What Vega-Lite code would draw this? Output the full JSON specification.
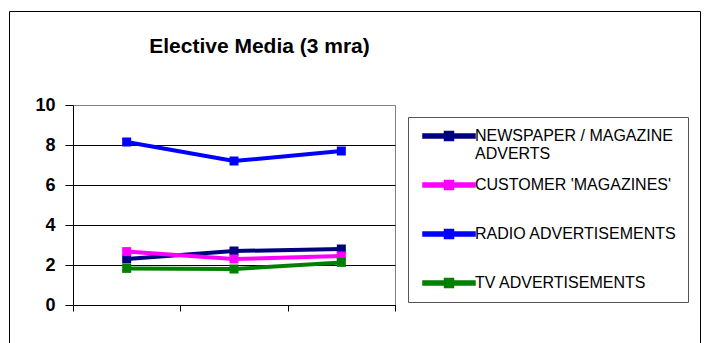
{
  "$schema": "https://vega.github.io/schema/vega-lite/v6.json",
  "width": 691,
  "height": 388,
  "autosize": {"type": "none"},
  "padding": {"left": 9, "top": 11, "right": 7, "bottom": 0},
  "background": "white",
  "config": {
    "view": {"stroke": "black", "strokeWidth": 1},
    "font": "Liberation Sans"
  },
  "title": {
    "text": "Elective Media (3 mra)",
    "font": "Liberation Sans",
    "fontSize": 21,
    "fontWeight": "bold",
    "color": "black",
    "anchor": "middle",
    "frame": "group",
    "dx": -95,
    "offset": 0,
    "baseline": "alphabetic",
    "dy": 63
  },
  "data": {
    "values": [
      {"series": "NEWSPAPER / MAGAZINE ADVERTS", "period": 1, "score": 2.3},
      {"series": "NEWSPAPER / MAGAZINE ADVERTS", "period": 2, "score": 2.7},
      {"series": "NEWSPAPER / MAGAZINE ADVERTS", "period": 3, "score": 2.8},
      {"series": "CUSTOMER 'MAGAZINES'", "period": 1, "score": 2.67},
      {"series": "CUSTOMER 'MAGAZINES'", "period": 2, "score": 2.3},
      {"series": "CUSTOMER 'MAGAZINES'", "period": 3, "score": 2.45},
      {"series": "RADIO ADVERTISEMENTS", "period": 1, "score": 8.15},
      {"series": "RADIO ADVERTISEMENTS", "period": 2, "score": 7.2},
      {"series": "RADIO ADVERTISEMENTS", "period": 3, "score": 7.7},
      {"series": "TV ADVERTISEMENTS", "period": 1, "score": 1.83},
      {"series": "TV ADVERTISEMENTS", "period": 2, "score": 1.8},
      {"series": "TV ADVERTISEMENTS", "period": 3, "score": 2.13}
    ]
  },
  "mark": {
    "type": "line",
    "strokeWidth": 4,
    "point": {"shape": "square", "filled": true, "size": 81, "opacity": 1}
  },
  "encoding": {
    "x": {
      "field": "period",
      "type": "quantitative",
      "scale": {"domain": [0.5, 3.5], "range": [64, 386], "nice": false, "zero": false},
      "axis": {
        "values": [0.5, 1.5, 2.5, 3.5],
        "offset": -94,
        "labels": false,
        "title": null,
        "tickSize": 6,
        "tickColor": "black",
        "domainColor": "black",
        "grid": true,
        "gridColor": "#808080",
        "gridOpacity": {"condition": {"test": "datum.value === 3.5", "value": 1}, "value": 0}
      }
    },
    "y": {
      "field": "score",
      "type": "quantitative",
      "scale": {"domain": [0, 10], "range": [294, 94], "nice": false},
      "axis": {
        "values": [0, 2, 4, 6, 8, 10],
        "offset": -64,
        "title": null,
        "tickSize": 8,
        "tickColor": "black",
        "domainColor": "black",
        "labelFont": "Liberation Sans",
        "labelFontSize": 18,
        "labelFontWeight": "bold",
        "labelColor": "black",
        "labelPadding": 10,
        "grid": true,
        "gridColor": {"condition": {"test": "datum.value === 10", "value": "#808080"}, "value": "black"},
        "gridOpacity": 1
      }
    },
    "color": {
      "field": "series",
      "type": "nominal",
      "scale": {
        "domain": ["NEWSPAPER / MAGAZINE ADVERTS", "CUSTOMER 'MAGAZINES'", "RADIO ADVERTISEMENTS", "TV ADVERTISEMENTS"],
        "range": ["#000080", "#ff00ff", "#0000ff", "#008000"]
      },
      "legend": {
        "orient": "none",
        "legendX": 399,
        "legendY": 106,
        "title": null,
        "strokeColor": "#555555",
        "fillColor": "white",
        "padding": 11,
        "gridAlign": "all",
        "rowPadding": 15,
        "labelFont": "Liberation Sans",
        "labelFontSize": 16,
        "labelColor": "black",
        "labelLimit": 400,
        "labelExpr": "datum.label === 'NEWSPAPER / MAGAZINE ADVERTS' ? ['NEWSPAPER / MAGAZINE', 'ADVERTS'] : datum.label",
        "symbolType": "M-5.2,-0.4H5.2V0.4H-5.2Z M-0.9,-0.9H0.9V0.9H-0.9Z",
        "symbolSize": 100,
        "symbolOffset": 22,
        "labelOffset": 18,
        "encoding": {
          "symbols": {
            "update": {
              "fill": {"scale": "color", "field": "value"},
              "stroke": {"value": "transparent"},
              "strokeWidth": {"value": 0},
              "opacity": {"value": 1}
            }
          }
        }
      }
    }
  }
}
